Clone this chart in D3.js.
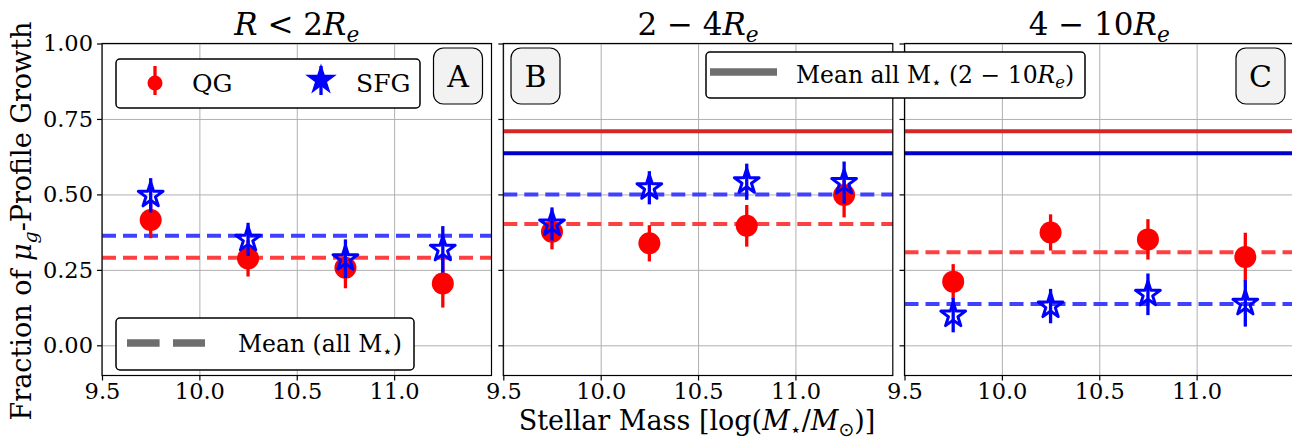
<!DOCTYPE html>
<html>
<head>
<meta charset="utf-8">
<script src="https://cdn.jsdelivr.net/npm/d3@7"></script>
<style>
  body { margin: 0; background: #fff; }
  svg { display: block; }
  svg text { fill: #000; }
  .grid line { stroke: #b0b0b0; stroke-width: 1; }
  .grid path { display: none; }
  .axis path, .axis line { stroke: #000; stroke-width: 1.2; }
</style>
</head>
<body>
<script>
// data
var masses = [9.75, 10.25, 10.75, 11.25];
var xTicks = [9.5, 10.0, 10.5, 11.0];
var yTicks = [0.00, 0.25, 0.50, 0.75, 1.00];
var panelLetters = ["A", "B", "C"];

// fraction of QG / SFG per panel (A, B, C)
var qgFrac = [[0.415, 0.288, 0.257, 0.205], [0.376, 0.338, 0.396, 0.498], [0.211, 0.374, 0.351, 0.293]];
var qgErr  = [[0.060, 0.060, 0.068, 0.080], [0.058, 0.060, 0.069, 0.074], [0.058, 0.060, 0.067, 0.080]];
var sfgFrac = [[0.497, 0.351, 0.287, 0.318], [0.402, 0.522, 0.542, 0.539], [0.100, 0.130, 0.169, 0.139]];
var sfgErr  = [[0.057, 0.055, 0.064, 0.077], [0.055, 0.055, 0.060, 0.070], [0.057, 0.057, 0.069, 0.077]];

// mean over all masses (dashed), per panel
var qgMean = [0.290, 0.402, 0.308];
var sfgMean = [0.363, 0.500, 0.137];
// mean all masses 2-10Re (solid), only panels B and C
var qgMeanOuter = 0.709;
var sfgMeanOuter = 0.636;

window.onload = function(){
    var w = 1292, h = 443;
    var svg = d3.select("body").append("svg").attr("width", w).attr("height", h);

    var lefts = [102, 503.3, 904.5], pw = 389.5;
    var top = 43.5, bottom = 375.5;
    var serif = "DejaVu Serif";

    var y = d3.scaleLinear().domain([-0.1, 1.0]).range([bottom, top]);

    //star path (matplotlib-like '*')
    function starPath(R){
        var pts = [];
        for (var k = 0; k < 10; k++){
            var r = k % 2 === 0 ? R : R * 0.382;
            var a = -Math.PI / 2 + k * Math.PI / 5;
            pts.push([r * Math.cos(a), r * Math.sin(a)]);
        }
        return "M" + pts.map(function(p){ return p[0].toFixed(2) + "," + p[1].toFixed(2); }).join("L") + "Z";
    }

    //rich text helper: parts {t, it, sub}
    function rich(sel, parts, size){
        var shifted = false;
        sel.style("font-family", serif);
        parts.forEach(function(p){
            var ts = sel.append("tspan").text(p.t);
            if (p.it) ts.attr("font-style", "italic");
            if (p.sub){
                ts.attr("font-size", size * 0.7).attr("dy", size * 0.22);
                shifted = true;
            } else if (shifted){
                ts.attr("dy", -size * 0.22);
                shifted = false;
            }
            if (p.font) ts.style("font-family", p.font);
        });
    }

    var titles = [
        [{t:"R", it:true}, {t:" < 2"}, {t:"R", it:true}, {t:"e", it:true, sub:true}],
        [{t:"2 \u2212 4"}, {t:"R", it:true}, {t:"e", it:true, sub:true}],
        [{t:"4 \u2212 10"}, {t:"R", it:true}, {t:"e", it:true, sub:true}]
    ];

    lefts.forEach(function(L, pi){
        var x = d3.scaleLinear().domain([9.5, 11.5]).range([L, L + pw]);
        var g = svg.append("g").attr("class", "panel");

        //grid
        g.append("g").attr("class", "grid")
            .attr("transform", "translate(0," + bottom + ")")
            .call(d3.axisBottom(x).tickValues(xTicks).tickSize(-(bottom - top)).tickFormat(""));
        g.append("g").attr("class", "grid")
            .attr("transform", "translate(" + L + ",0)")
            .call(d3.axisLeft(y).tickValues(yTicks).tickSize(-pw).tickFormat(""));

        //solid means (outer region)
        if (pi > 0){
            g.append("line").attr("x1", L).attr("x2", L + pw)
                .attr("y1", y(qgMeanOuter)).attr("y2", y(qgMeanOuter))
                .style("stroke", "#d62728").style("stroke-width", 4);
            g.append("line").attr("x1", L).attr("x2", L + pw)
                .attr("y1", y(sfgMeanOuter)).attr("y2", y(sfgMeanOuter))
                .style("stroke", "#0000cc").style("stroke-width", 4);
        }
        //dashed means
        g.append("line").attr("x1", L).attr("x2", L + pw)
            .attr("y1", y(sfgMean[pi])).attr("y2", y(sfgMean[pi]))
            .style("stroke", "#4040ff").style("stroke-width", 4).style("stroke-dasharray", "14,7");
        g.append("line").attr("x1", L).attr("x2", L + pw)
            .attr("y1", y(qgMean[pi])).attr("y2", y(qgMean[pi]))
            .style("stroke", "#ff4040").style("stroke-width", 4).style("stroke-dasharray", "14,7");

        var qg = masses.map(function(m, i){ return {m: m, v: qgFrac[pi][i], e: qgErr[pi][i]}; });
        var sfg = masses.map(function(m, i){ return {m: m, v: sfgFrac[pi][i], e: sfgErr[pi][i]}; });

        //QG points
        g.selectAll(".qgErr").data(qg).enter().append("line")
            .attr("x1", function(d){ return x(d.m); }).attr("x2", function(d){ return x(d.m); })
            .attr("y1", function(d){ return y(d.v - d.e); }).attr("y2", function(d){ return y(d.v + d.e); })
            .style("stroke", "#ff0000").style("stroke-width", 3.3);
        g.selectAll(".qgPt").data(qg).enter().append("circle")
            .attr("cx", function(d){ return x(d.m); }).attr("cy", function(d){ return y(d.v); })
            .attr("r", 11).style("fill", "#ff0000");

        //SFG points (hollow stars)
        g.selectAll(".sfgErr").data(sfg).enter().append("line")
            .attr("x1", function(d){ return x(d.m); }).attr("x2", function(d){ return x(d.m); })
            .attr("y1", function(d){ return y(d.v - d.e); }).attr("y2", function(d){ return y(d.v + d.e); })
            .style("stroke", "#0000ff").style("stroke-width", 3.3);
        g.selectAll(".sfgPt").data(sfg).enter().append("path")
            .attr("transform", function(d){ return "translate(" + x(d.m) + "," + y(d.v) + ")"; })
            .attr("d", starPath(13))
            .style("fill", "none").style("stroke", "#0000ff").style("stroke-width", 3)
            .style("stroke-linejoin", "round");

        //axes
        var xa = g.append("g").attr("class", "axis")
            .attr("transform", "translate(0," + bottom + ")")
            .call(d3.axisBottom(x).tickValues(xTicks).tickSize(5).tickPadding(3).tickFormat(d3.format(".1f")));
        xa.selectAll("text").style("font-family", serif).attr("font-size", 22.5);
        xa.select(".domain").remove();
        var ya = g.append("g").attr("class", "axis")
            .attr("transform", "translate(" + L + ",0)")
            .call(d3.axisLeft(y).tickValues(yTicks).tickSize(5).tickPadding(4)
                .tickFormat(pi === 0 ? d3.format(".2f") : ""));
        ya.selectAll("text").style("font-family", serif).attr("font-size", 22.5);
        ya.select(".domain").remove();

        //frame
        g.append("rect").attr("x", L).attr("y", top).attr("width", pw).attr("height", bottom - top)
            .style("fill", "none").style("stroke", "#000").style("stroke-width", 1.2);

        //title
        var tt = g.append("text").attr("x", L + pw / 2).attr("y", 35)
            .attr("text-anchor", "middle").attr("font-size", 31);
        rich(tt, titles[pi], 31);

        //panel letter
        var bx = pi === 1 ? 511 : L + pw - 58;
        g.append("rect").attr("x", bx).attr("y", 48).attr("width", 49).attr("height", 56)
            .attr("rx", 10).style("fill", "#f2f2f2").style("stroke", "#000").style("stroke-width", 1.2);
        g.append("text").attr("x", bx + 24.5).attr("y", 87).attr("text-anchor", "middle")
            .style("font-family", serif).attr("font-size", 30).text(panelLetters[pi]);
    });

    //legend QG / SFG
    var lg = svg.append("g");
    lg.append("rect").attr("x", 116).attr("y", 59).attr("width", 304).attr("height", 49).attr("rx", 4)
        .style("fill", "#fff").style("stroke", "#000").style("stroke-width", 1.5);
    lg.append("line").attr("x1", 155).attr("x2", 155).attr("y1", 66).attr("y2", 95)
        .style("stroke", "#ff0000").style("stroke-width", 3.3);
    lg.append("circle").attr("cx", 155).attr("cy", 83).attr("r", 7.5).style("fill", "#ff0000");
    lg.append("text").attr("x", 192).attr("y", 92).style("font-family", serif).attr("font-size", 25).text("QG");
    lg.append("line").attr("x1", 321).attr("x2", 321).attr("y1", 66).attr("y2", 95)
        .style("stroke", "#0000ff").style("stroke-width", 3.3);
    lg.append("path").attr("transform", "translate(321,80)").attr("d", starPath(16.6))
        .style("fill", "#0000ff");
    lg.append("text").attr("x", 356).attr("y", 92).style("font-family", serif).attr("font-size", 25).text("SFG");

    //legend dashed mean
    var lg2 = svg.append("g");
    lg2.append("rect").attr("x", 116).attr("y", 318).attr("width", 298).attr("height", 52).attr("rx", 4)
        .style("fill", "#fff").style("stroke", "#000").style("stroke-width", 1.5);
    lg2.append("line").attr("x1", 127).attr("x2", 205).attr("y1", 343).attr("y2", 343)
        .style("stroke", "#6e6e6e").style("stroke-width", 7.5).style("stroke-dasharray", "32.6,13.4");
    var t2 = lg2.append("text").attr("x", 238).attr("y", 352).attr("font-size", 23.5);
    rich(t2, [{t:"Mean (all M"}, {t:"\u22c6", sub:true, font:"DejaVu Sans"}, {t:")"}], 23.5);

    //legend solid mean (drawn over panel border)
    var lg3 = svg.append("g");
    lg3.append("rect").attr("x", 706).attr("y", 52).attr("width", 379).attr("height", 46).attr("rx", 4)
        .style("fill", "#fff").style("stroke", "#000").style("stroke-width", 1.5);
    lg3.append("line").attr("x1", 710).attr("x2", 777).attr("y1", 72).attr("y2", 72)
        .style("stroke", "#6e6e6e").style("stroke-width", 7.5);
    var t3 = lg3.append("text").attr("x", 796).attr("y", 83).attr("font-size", 23.5);
    rich(t3, [{t:"Mean all M"}, {t:"\u22c6", sub:true, font:"DejaVu Sans"}, {t:" (2 \u2212 10"},
        {t:"R", it:true}, {t:"e", it:true, sub:true}, {t:")"}], 23.5);

    //axis labels
    var xl = svg.append("text").attr("x", 697).attr("y", 430).attr("text-anchor", "middle")
        .attr("font-size", 27);
    rich(xl, [{t:"Stellar Mass [log("}, {t:"M", it:true}, {t:"\u22c6", sub:true, font:"DejaVu Sans"},
        {t:"/"}, {t:"M", it:true}, {t:"\u2299", sub:true, font:"DejaVu Sans"}, {t:")]"}], 27);

    var yl = svg.append("text").attr("transform", "translate(31,221) rotate(-90)")
        .attr("text-anchor", "middle").attr("font-size", 27);
    rich(yl, [{t:"Fraction of "}, {t:"\u03bc", it:true}, {t:"g", it:true, sub:true}, {t:"-Profile Growth"}], 27);
};
</script>
</body>
</html>
